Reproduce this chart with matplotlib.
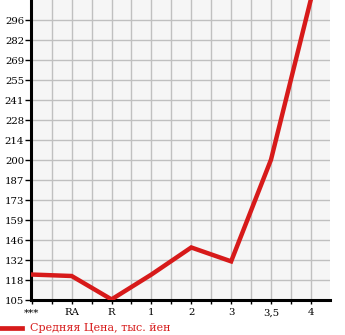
import numpy as np
import matplotlib.pyplot as plt

categories = ["***", "RA", "R", "1", "2", "3", "3,5", "4"]
prices = [122, 121, 105, 122, 140.5, 131, 200.5, 310]
ytick_labels = ["105", "118", "132", "146", "159", "173", "187", "200",
                "214", "228", "241", "255", "269", "282", "296"]

red = "#d71a1a"
W, H = 345, 335
fig = plt.figure(figsize=(W / 100, H / 100), dpi=100)
ax = fig.add_axes([31 / W, 35 / H, 299 / W, 300 / H])
ax.set_facecolor("#f6f6f6")

x = np.arange(len(categories))
ax.plot(x, prices, color=red, lw=3.2, solid_joinstyle="miter", clip_on=True, zorder=3)

ymin, step = 104.6, 13.667
ax.set_ylim(ymin, ymin + 15 * step)
ax.set_xlim(-0.02, 7.48)

yt = ymin + step * np.arange(15)
ax.set_yticks(yt)
ax.set_yticklabels(ytick_labels)
ax.set_xticks(x)
ax.set_xticklabels(categories)
ax.set_xticks(np.arange(0.5, 7.5, 1.0), minor=True)

for v in np.arange(0.5, 7.6, 0.5):
    ax.axvline(v, color="#c0c0c0", lw=1, zorder=1)
for v in yt[1:]:
    ax.axhline(v, color="#c0c0c0", lw=1, zorder=1)

for s in ["top", "right"]:
    ax.spines[s].set_visible(False)
for s in ["left", "bottom"]:
    ax.spines[s].set_linewidth(2.2)
    ax.spines[s].set_color("black")

ax.tick_params(axis="both", which="both", direction="out", color="black",
               labelsize=7.3, width=1)
ax.tick_params(axis="y", length=4, pad=1)
ax.tick_params(axis="x", which="both", length=3, pad=3)
for lab in ax.get_xticklabels() + ax.get_yticklabels():
    lab.set_family("DejaVu Serif")

fig.lines.append(plt.Line2D([0, 22 / W], [1 - 328 / H] * 2, color=red, lw=3.4,
                            transform=fig.transFigure))
fig.text(30 / W, 1 - 328 / H, "Средняя Цена, тыс. йен", color=red,
         fontsize=8, family="DejaVu Serif", va="center", ha="left")

fig.savefig("out.png", dpi=100)
